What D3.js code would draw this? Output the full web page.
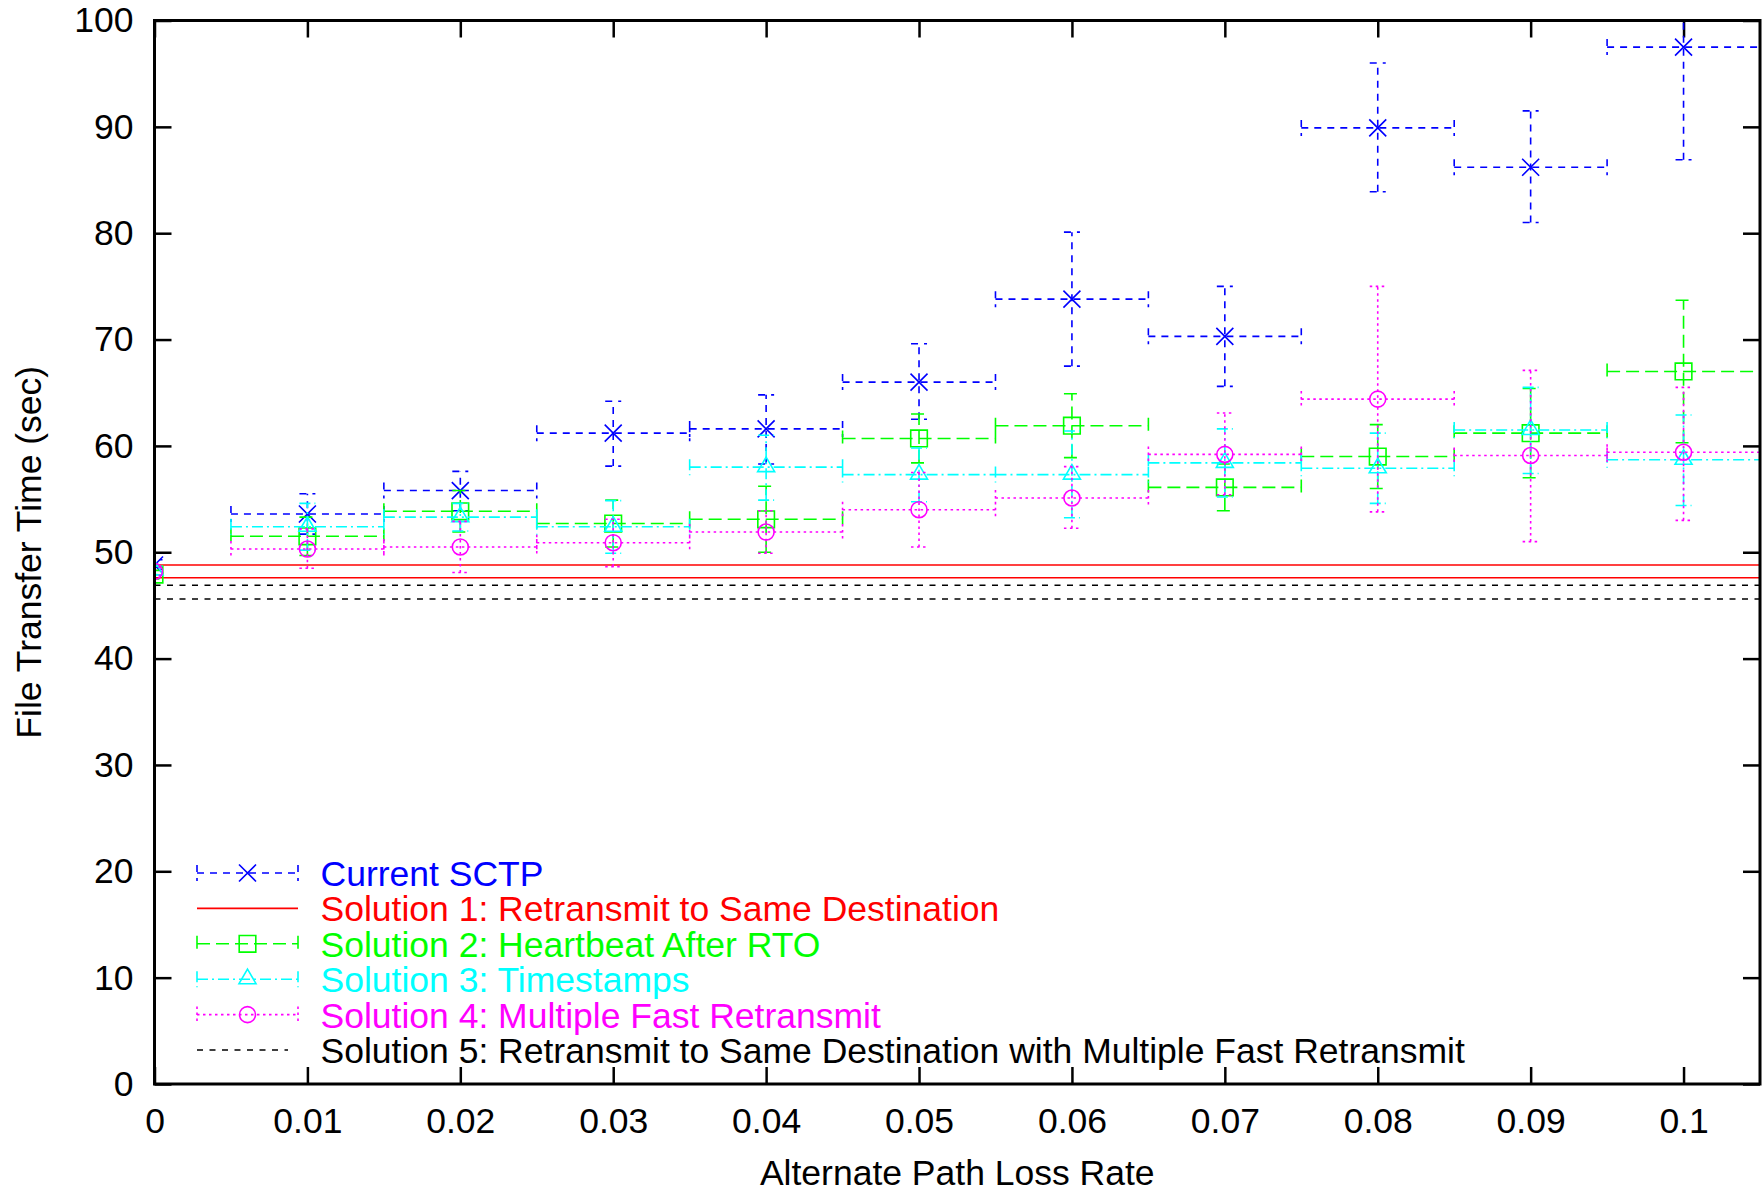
<!DOCTYPE html>
<html>
<head>
<meta charset="utf-8">
<script src="https://cdn.jsdelivr.net/npm/d3@7"></script>
<style>
  body { margin: 0; background: #fff; }
  text { font-family: "Liberation Sans", Arial, sans-serif; }
</style>
</head>
<body>
<div id="chart"></div>
<script>
// loss rates on the x axis and their half-width error
const lossRates = [0, 0.01, 0.02, 0.03, 0.04, 0.05, 0.06, 0.07, 0.08, 0.09, 0.1];
const lossRateErr = [0, 0.005, 0.005, 0.005, 0.005, 0.005, 0.005, 0.005, 0.005, 0.005, 0.005];

const xTicks = [0, 0.01, 0.02, 0.03, 0.04, 0.05, 0.06, 0.07, 0.08, 0.09, 0.1];
const yTicks = [0, 10, 20, 30, 40, 50, 60, 70, 80, 90, 100];

// Current SCTP
const sctpMean = [48.8, 53.6, 55.8, 61.2, 61.6, 66.0, 73.8, 70.3, 89.9, 86.2, 97.5];
const sctpLow = [48.4, 51.7, 53.9, 58.1, 58.3, 62.5, 67.5, 65.6, 83.9, 81.0, 86.9];
const sctpHigh = [49.3, 55.5, 57.6, 64.2, 64.8, 69.6, 80.1, 75.0, 96.0, 91.5, 108.0];

// Solution 2: Heartbeat After RTO
const hbMean = [47.9, 51.5, 53.85, 52.7, 53.1, 60.7, 61.9, 56.1, 59.0, 61.2, 67.0];
const hbLow = [47.5, 49.7, 51.9, 50.5, 50.0, 58.4, 58.9, 53.9, 56.0, 57.0, 60.3];
const hbHigh = [48.3, 53.3, 55.8, 54.9, 56.2, 63.0, 64.9, 58.3, 62.0, 65.4, 73.7];

// Solution 3: Timestamps
const tsMean = [48.3, 52.4, 53.3, 52.4, 58.0, 57.3, 57.3, 58.4, 57.9, 61.5, 58.7];
const tsLow = [47.9, 50.2, 52.0, 49.9, 54.9, 54.75, 53.25, 55.2, 54.6, 57.4, 54.4];
const tsHigh = [48.7, 54.6, 54.6, 54.85, 61.0, 59.8, 61.4, 61.6, 61.2, 65.5, 62.9];

// Solution 4: Multiple Fast Retransmit
const mfrMean = [48.2, 50.3, 50.5, 50.9, 51.9, 54.0, 55.1, 59.2, 64.4, 59.1, 59.4];
const mfrLow = [47.8, 48.5, 48.1, 48.65, 49.9, 50.5, 52.25, 55.4, 53.8, 51.0, 53.0];
const mfrHigh = [48.6, 52.2, 52.9, 53.1, 53.9, 57.5, 58.05, 63.1, 75.0, 67.1, 65.5];

// Solutions 1 and 5 are flat lines (upper / lower)
const sameDestLines = [48.8, 47.6];
const comboLines = [46.9, 45.6];

const margin = { top: 20.5, right: 3, bottom: 109, left: 154.5 },
  width = 1763 - margin.left - margin.right,
  height = 1193 - margin.top - margin.bottom;

const svg = d3
  .select("#chart")
  .append("svg")
  .attr("width", 1763)
  .attr("height", 1193)
  .append("g")
  .attr("transform", `translate(${margin.left}, ${margin.top})`);

const x = d3.scaleLinear().domain([0, 0.105]).range([0, width]);
const y = d3.scaleLinear().domain([0, 100]).range([height, 0]);

svg.append("clipPath").attr("id", "plot-clip")
  .append("rect").attr("width", width).attr("height", height);

// axes with inward ticks, mirrored on top/right
const tickLen = 17;
const fontSize = 35.5;

svg.append("g")
  .attr("transform", `translate(0, ${height})`)
  .call(d3.axisBottom(x).tickValues(xTicks).tickFormat((d) => String(d))
    .tickSizeInner(-tickLen).tickSizeOuter(0).tickPadding(24));
svg.append("g")
  .call(d3.axisLeft(y).tickValues(yTicks).tickFormat((d) => String(d))
    .tickSizeInner(-tickLen).tickSizeOuter(0).tickPadding(21));
svg.append("g")
  .call(d3.axisTop(x).tickValues(xTicks).tickFormat("")
    .tickSizeInner(-tickLen).tickSizeOuter(0));
svg.append("g")
  .attr("transform", `translate(${width}, 0)`)
  .call(d3.axisRight(y).tickValues(yTicks).tickFormat("")
    .tickSizeInner(-tickLen).tickSizeOuter(0));

svg.selectAll(".domain").remove();
svg.selectAll(".tick line").attr("stroke", "#000").attr("stroke-width", 2.5);
svg.selectAll(".tick text").attr("font-size", fontSize).attr("fill", "#000")
  .style("font-family", "'Liberation Sans', Arial, sans-serif");

// axis titles
svg.append("text")
  .attr("x", width / 2)
  .attr("y", 1185 - margin.top)
  .attr("text-anchor", "middle")
  .attr("font-size", fontSize)
  .text("Alternate Path Loss Rate");

svg.append("text")
  .attr("transform", `translate(${41 - margin.left}, ${height / 2}) rotate(-90)`)
  .attr("text-anchor", "middle")
  .attr("font-size", fontSize)
  .text("File Transfer Time (sec)");

const series = [
  { name: "Current SCTP", color: "#0000ff", dash: "7,6", marker: "cross",
    mean: sctpMean, low: sctpLow, high: sctpHigh },
  { name: "Solution 2: Heartbeat After RTO", color: "#00ff00", dash: "13,6", marker: "square",
    mean: hbMean, low: hbLow, high: hbHigh },
  { name: "Solution 3: Timestamps", color: "#00ffff", dash: "11,4,2,4", marker: "triangle",
    mean: tsMean, low: tsLow, high: tsHigh },
  { name: "Solution 4: Multiple Fast Retransmit", color: "#ff00ff", dash: "2.5,3.5", marker: "circle",
    mean: mfrMean, low: mfrLow, high: mfrHigh },
];

const capHalf = 8;

function markerPath(type, cx, cy) {
  const p = d3.path();
  if (type === "cross") {
    const s = 8.5;
    p.moveTo(cx - s, cy - s); p.lineTo(cx + s, cy + s);
    p.moveTo(cx - s, cy + s); p.lineTo(cx + s, cy - s);
  } else if (type === "square") {
    const s = 8.3;
    p.rect(cx - s, cy - s, 2 * s, 2 * s);
  } else if (type === "triangle") {
    p.moveTo(cx, cy - 10); p.lineTo(cx + 8.5, cy + 4.5); p.lineTo(cx - 8.5, cy + 4.5); p.closePath();
  } else if (type === "circle") {
    p.moveTo(cx + 8, cy); p.arc(cx, cy, 8, 0, 2 * Math.PI);
  }
  return p.toString();
}

const plot = svg.append("g").attr("clip-path", "url(#plot-clip)");

function drawErrorSeries(s) {
  const pts = lossRates.map((lr, i) => ({
    x: lr, xe: lossRateErr[i], m: s.mean[i], lo: s.low[i], hi: s.high[i]
  }));
  const g = plot.append("g");
  const bars = d3.path();
  pts.forEach((d) => {
    const cx = x(d.x), cy = y(d.m);
    if (d.xe > 0) {
      const x0 = x(d.x - d.xe), x1 = x(d.x + d.xe);
      bars.moveTo(x0, cy); bars.lineTo(x1, cy);
      bars.moveTo(x0, cy - capHalf); bars.lineTo(x0, cy + capHalf);
      bars.moveTo(x1, cy - capHalf); bars.lineTo(x1, cy + capHalf);
    }
    const y0 = y(d.lo), y1 = y(d.hi);
    bars.moveTo(cx, y0); bars.lineTo(cx, y1);
    bars.moveTo(cx - capHalf, y0); bars.lineTo(cx + capHalf, y0);
    bars.moveTo(cx - capHalf, y1); bars.lineTo(cx + capHalf, y1);
  });
  g.append("path")
    .attr("d", bars.toString())
    .attr("fill", "none")
    .attr("stroke", s.color)
    .attr("stroke-width", 1.6)
    .attr("stroke-dasharray", s.dash);
  g.selectAll("path.marker")
    .data(pts)
    .join("path")
    .attr("class", "marker")
    .attr("d", (d) => markerPath(s.marker, x(d.x), y(d.m)))
    .attr("fill", "none")
    .attr("stroke", s.color)
    .attr("stroke-width", 1.6);
}

function drawFlat(values, color, dash) {
  plot.append("g")
    .selectAll("line")
    .data(values)
    .join("line")
    .attr("x1", 0)
    .attr("x2", width)
    .attr("y1", (d) => y(d))
    .attr("y2", (d) => y(d))
    .attr("stroke", color)
    .attr("stroke-width", 1.6)
    .attr("stroke-dasharray", dash);
}

drawErrorSeries(series[0]);
drawFlat(sameDestLines, "#ff0000", null);
drawErrorSeries(series[1]);
drawErrorSeries(series[2]);
drawErrorSeries(series[3]);
drawFlat(comboLines, "#000000", "6,6.5");

// border
svg.append("rect")
  .attr("width", width)
  .attr("height", height)
  .attr("fill", "none")
  .attr("stroke", "#000")
  .attr("stroke-width", 3);

// legend
const legendItems = [
  { label: "Current SCTP", color: "#0000ff", dash: "7,6", marker: "cross", caps: true },
  { label: "Solution 1: Retransmit to Same Destination", color: "#ff0000", dash: null, marker: null, caps: false },
  { label: "Solution 2: Heartbeat After RTO", color: "#00ff00", dash: "13,6", marker: "square", caps: true },
  { label: "Solution 3: Timestamps", color: "#00ffff", dash: "11,4,2,4", marker: "triangle", caps: true },
  { label: "Solution 4: Multiple Fast Retransmit", color: "#ff00ff", dash: "2.5,3.5", marker: "circle", caps: true },
  { label: "Solution 5: Retransmit to Same Destination with Multiple Fast Retransmit", color: "#000000", dash: "6,6.5", marker: null, caps: false, short: true },
];

const legend = svg.append("g").attr("transform", `translate(${197 - margin.left}, ${873 - margin.top})`);
const rowH = 35.4;
const sampleW = 101;

legendItems.forEach((item, i) => {
  const row = legend.append("g").attr("transform", `translate(0, ${i * rowH})`);
  const p = d3.path();
  p.moveTo(0, 0); p.lineTo(item.short ? sampleW - 10 : sampleW, 0);
  if (item.caps) {
    p.moveTo(0, -capHalf); p.lineTo(0, capHalf);
    p.moveTo(sampleW, -capHalf); p.lineTo(sampleW, capHalf);
  }
  row.append("path")
    .attr("d", p.toString())
    .attr("fill", "none")
    .attr("stroke", item.color)
    .attr("stroke-width", 1.6)
    .attr("stroke-dasharray", item.dash);
  if (item.marker) {
    row.append("path")
      .attr("d", markerPath(item.marker, sampleW / 2, 0))
      .attr("fill", "none")
      .attr("stroke", item.color)
      .attr("stroke-width", 1.6);
  }
  row.append("text")
    .attr("x", 320.5 - 197)
    .attr("y", 13)
    .attr("font-size", fontSize)
    .attr("fill", item.color)
    .text(item.label);
});
</script>
</body>
</html>
